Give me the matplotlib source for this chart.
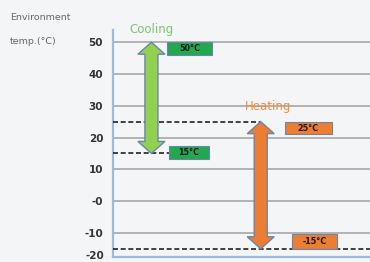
import matplotlib
matplotlib.use("Agg")
import matplotlib.pyplot as plt
from matplotlib.patches import Polygon, Rectangle

# ---- data ----
modes = ["Cooling", "Heating"]
mode_x = [1.5, 5.75]
mode_low = [15, -15]
mode_high = [50, 25]
box_labels_high = ["50°C", "25°C"]
box_labels_low = ["15°C", "-15°C"]
yticks = [50, 40, 30, 20, 10, 0, -10]
ytick_labels = ["50", "40", "30", "20", "10", "-0", "-10"]
extra_tick = -20
extra_tick_label = "-20"

# ---- style ----
bg = "#f3f5f7"
arrow_fill = ["#92d050", "#ed7d31"]
box_fill = ["#22a84e", "#ed7d31"]
title_col = ["#7cc66a", "#f08a3c"]
outline = "#6a86ad"
tick_col = "#333333"

fig = plt.figure(figsize=(3.7, 2.62), dpi=100, facecolor=bg)
ax = fig.add_axes([0.305, 0.019, 0.695, 0.866], facecolor=bg)
ax.set_xlim(0, 10)
ax.set_ylim(-17.6, 53.8)

for s in ["top", "right"]:
    ax.spines[s].set_visible(False)
for s in ["left", "bottom"]:
    ax.spines[s].set_color("#9dbbe0")
    ax.spines[s].set_linewidth(1.6)
ax.set_xticks([])
ax.set_yticks(yticks)
ax.set_yticklabels(ytick_labels)
ax.tick_params(axis="y", length=0, pad=7, labelsize=7.5, labelcolor=tick_col)
for t in ax.get_yticklabels():
    t.set_fontweight("bold")
ax.grid(axis="y", color="#a0a0a0", linewidth=1.1)
ax.set_axisbelow(True)

# bottom tick label sits at the very bottom edge, below the last grid line
ax.text(-0.35, extra_tick + 2.6, extra_tick_label, ha="right", va="center",
        fontsize=7.5, fontweight="bold", color=tick_col, clip_on=False)

fig.text(10 / 370, 1 - 18 / 262, "Environment", fontsize=6.8, color="#666666",
         ha="left", va="center")
fig.text(10 / 370, 1 - 42 / 262, "temp.(°C)", fontsize=6.8, color="#666666",
         ha="left", va="center")

fig.canvas.draw()
T = ax.transData


def double_arrow(x, y0, y1, fc):
    (cx, py0) = T.transform((x, y0))
    (_, py1) = T.transform((x, y1))
    sw, hw, hl = 6.5, 13.5, 12
    verts = [
        (cx, py1), (cx + hw, py1 - hl), (cx + sw, py1 - hl),
        (cx + sw, py0 + hl), (cx + hw, py0 + hl), (cx, py0),
        (cx - hw, py0 + hl), (cx - sw, py0 + hl), (cx - sw, py1 - hl),
        (cx - hw, py1 - hl),
    ]
    p = Polygon(verts, closed=True, transform=None, facecolor=fc,
                edgecolor=outline, linewidth=1.0, zorder=4)
    fig.add_artist(p)


def box(xc, ytop, text, fc, w=4.5, h=4.0):
    r = Rectangle((xc - w / 2, ytop - h), w, h, facecolor=fc, edgecolor=outline,
                  linewidth=0.8, zorder=5)
    ax.add_patch(r)
    ax.text(xc, ytop - h / 2, text, ha="center", va="center", fontsize=5.8,
            color="#1a1a1a", fontweight="bold", zorder=6)


dash = dict(color="#222222", linewidth=1.2, linestyle=(0, (3, 1.6)), zorder=3)

# Cooling
ax.plot([0, 2.2], [mode_low[0], mode_low[0]], **dash)
double_arrow(mode_x[0], mode_low[0], mode_high[0], arrow_fill[0])
ax.text(mode_x[0], 54.0, modes[0], ha="center", va="center", fontsize=8.5,
        color=title_col[0], clip_on=False)
box(3.0, mode_high[0], box_labels_high[0], box_fill[0], w=1.75)
box(2.96, mode_low[0] + 2.2, box_labels_low[0], box_fill[0], w=1.56)

# Heating
ax.plot([0, mode_x[1]], [mode_high[1], mode_high[1]], **dash)
ax.plot([0, 10], [mode_low[1], mode_low[1]], **dash)
double_arrow(mode_x[1], mode_low[1], mode_high[1], arrow_fill[1])
ax.text(6.05, 29.7, modes[1], ha="center", va="center", fontsize=8.5,
        color=title_col[1])
box(7.6, mode_high[1], box_labels_high[1], box_fill[1], w=1.83)
box(7.84, mode_low[1] + 4.6, box_labels_low[1], box_fill[1], w=1.75, h=4.6)

fig.savefig("out.png", dpi=100, facecolor=bg)
